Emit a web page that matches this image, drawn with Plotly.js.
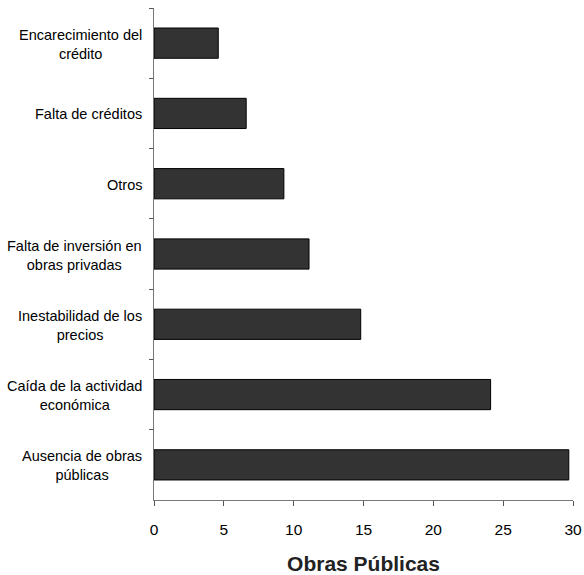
<!DOCTYPE html>
<html>
<head>
<meta charset="utf-8">
<script src="https://cdn.plot.ly/plotly-3.0.1.min.js"></script>
<style>html,body{margin:0;padding:0;background:#fff;}#chart{width:584px;height:575px;}</style>
</head>
<body>
<div id="chart"></div>
<script>
// Categories, top to bottom
var categories = [
  "Encarecimiento del crédito",
  "Falta de créditos",
  "Otros",
  "Falta de inversión en obras privadas",
  "Inestabilidad de los precios",
  "Caída de la actividad económica",
  "Ausencia de obras públicas"
];
var labels = [
  "Encarecimiento del<br>crédito",
  "Falta de créditos",
  "Otros",
  "Falta de inversión en<br>obras privadas",
  "Inestabilidad de los<br>precios",
  "Caída de la actividad<br>económica",
  "Ausencia de obras<br>públicas"
];
var values = [4.6, 6.6, 9.3, 11.1, 14.8, 24.1, 29.7];
var xTicks = [0, 5, 10, 15, 20, 25, 30];
var xTitle = "Obras Públicas";

var trace = {
  type: "bar",
  orientation: "h",
  y: categories,
  x: values,
  marker: {color: "#333333", line: {color: "#000000", width: 1}},
  hoverinfo: "x+y"
};

var annotations = categories.map(function(c, i) {
  return {
    xref: "paper", yref: "y", x: 0, y: c,
    xanchor: "right", yanchor: "middle", xshift: -10, yshift: -1,
    align: "center", showarrow: false,
    text: labels[i],
    font: {family: "Liberation Sans, Arial, sans-serif", size: 14.5, color: "#000"}
  };
});

var layout = {
  width: 584, height: 575,
  margin: {l: 154, r: 11, t: 8, b: 75},
  paper_bgcolor: "#ffffff", plot_bgcolor: "#ffffff",
  showlegend: false,
  bargap: 0.57,
  font: {family: "Liberation Sans, Arial, sans-serif", size: 13, color: "#000"},
  xaxis: {
    range: [0, 30], tickvals: xTicks, ticktext: xTicks.map(String),
    ticks: "outside", ticklen: 5, tickcolor: "#555", tickwidth: 1,
    ticklabelstandoff: 10,
    showline: true, linecolor: "#777", linewidth: 1,
    showgrid: false, zeroline: false,
    tickfont: {size: 15.5, color: "#000"},
    title: {text: "<b>" + xTitle + "</b>", font: {size: 21, color: "#222"}, standoff: 22}
  },
  yaxis: {
    type: "category", autorange: "reversed",
    showticklabels: false,
    ticks: "outside", tickson: "boundaries", ticklen: 4, tickcolor: "#555",
    showline: true, linecolor: "#777", linewidth: 1,
    showgrid: false, zeroline: false
  },
  annotations: annotations
};

Plotly.newPlot("chart", [trace], layout, {displayModeBar: false, staticPlot: true});
</script>
</body>
</html>
